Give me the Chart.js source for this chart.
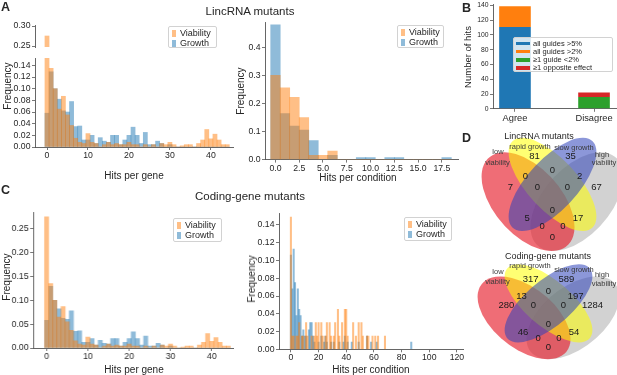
<!DOCTYPE html>
<html>
<head>
<meta charset="utf-8">
<script src="https://cdn.jsdelivr.net/npm/chart.js@4.4.1/dist/chart.umd.min.js"></script>
<style>
  html, body { margin: 0; padding: 0; background: #fff; }
  #fig { position: relative; width: 617px; height: 375px; overflow: hidden;
         font-family: "Liberation Sans", Arial, sans-serif; color: #262626; }
  .box { position: absolute; }
  .txt { position: absolute; white-space: nowrap; line-height: 1; transform: translate(-50%, -50%); }
  .rot { transform: translate(-50%, -50%) rotate(-90deg); }
  .letter { position: absolute; font-weight: bold; font-size: 12.5px; line-height: 1; }
  .leg { position: absolute; border: 1px solid #d2d2d2; border-radius: 2px; background: rgba(255,255,255,0.8); box-sizing: border-box; }
  .leg span { position: absolute; white-space: nowrap; line-height: 1; }
</style>
</head>
<body>
<div id="fig"></div>
<script>
// ---- data ----
const geneHits = [0, 1, 2, 3, 4, 5, 6, 7, 8, 9, 10, 11, 12, 13, 14, 15, 16, 17, 18, 19, 20, 21, 22,
  23, 24, 25, 26, 27, 28, 29, 30, 31, 32, 33, 34, 35, 36, 37, 38, 39, 40, 41, 42, 43, 44];
const geneViability = [0.275, 0.135, 0.100, 0.065, 0.087, 0.055, 0.037, 0.015, 0.008, 0.006, 0.023,
  0.008, 0.006, 0, 0.004, 0.008, 0.004, 0.006, 0.004, 0.004, 0.008, 0.004, 0.004, 0, 0.004, 0,
  0.004, 0, 0.006, 0.004, 0.008, 0.004, 0, 0.002, 0.004, 0.004, 0, 0.006, 0.012, 0.030, 0.014,
  0.022, 0.012, 0.004, 0.004];
const geneGrowth = [0.058, 0.129, 0.100, 0.082, 0.062, 0.060, 0.078, 0.035, 0.036, 0.012, 0.012,
  0.020, 0.006, 0.016, 0.010, 0.008, 0.020, 0.020, 0.004, 0.012, 0.020, 0.034, 0.020, 0.006, 0.025,
  0.004, 0.004, 0.010, 0.006, 0, 0.004, 0, 0, 0, 0, 0, 0, 0, 0, 0, 0, 0, 0, 0, 0];

const lincCondHits = [0, 1, 2, 3, 4, 5, 6, 7, 8, 9, 10, 11, 12, 13, 14, 15, 16, 17, 18];
const lincCondViability = [0.300, 0.256, 0.222, 0.150, 0.015, 0.015, 0.030, 0, 0, 0, 0, 0, 0, 0, 0, 0, 0, 0, 0];
const lincCondGrowth = [0.480, 0.164, 0.119, 0.105, 0.068, 0, 0.015, 0, 0, 0.007, 0.007, 0, 0.007, 0.007, 0, 0, 0, 0, 0.007];

const codingCondViabX = [0, 1, 2, 4, 5, 6, 8, 9, 11, 12, 15, 17, 18, 19, 20, 22, 23, 25, 26, 28,
  29, 31, 32, 34, 35, 37, 39, 40, 41, 45, 47, 49, 51, 52, 55, 56, 59, 61, 63, 68];
const codingCondViabY = [0.149, 0.015, 0.015, 0.015, 0.015, 0.030, 0.015, 0.015, 0.030, 0.015,
  0.015, 0.015, 0.030, 0.015, 0.030, 0.030, 0.015, 0.015, 0.030, 0.030,
  0.015, 0.015, 0.030, 0.045, 0.015, 0.030, 0.045, 0.045, 0.015, 0.030,
  0.015, 0.030, 0.030, 0.015, 0.015, 0.015, 0.015, 0.015, 0.015, 0.015];
const codingCondGrowthX = [0, 1, 2, 3, 4, 5, 6, 7, 8, 9, 10, 11, 13, 14, 15, 16, 17, 20, 22, 24,
  25, 26, 29, 31, 35, 38, 39, 41, 44, 49, 55, 58, 62, 87];
const codingCondGrowthY = [0.106, 0.068, 0.113, 0.075, 0.038, 0.068, 0.045, 0.038, 0.015, 0.022,
  0.015, 0.015, 0.022, 0.030, 0.030, 0.015, 0.008, 0.008, 0.015, 0.008,
  0.015, 0.008, 0.008, 0.008, 0.008, 0.008, 0.015, 0.008, 0.008, 0.008,
  0.015, 0.008, 0.008, 0.008];

const agreeCats = ['Agree', 'Disagree'];
const hitLabels = ['all guides >5%', 'all guides >2%', '≥1 guide <2%', '≥1 opposite effect'];
const hitsAbove5 = [111, 0];
const hitsAbove2 = [28, 0];
const hitsBelow2 = [0, 16];
const hitsOpposite = [0, 6];

const vennSets = ['low viability', 'rapid growth', 'slow growth', 'high viability'];
// regions: low, rapid, slow, high, low+rapid, slow+high, rapid+slow, low+rapid+slow,
// rapid+slow+high, all, low+slow, rapid+high, low+slow+high, low+rapid+high, low+high
const lincVenn = [7, 81, 35, 67, 0, 2, 0, 0, 0, 0, 5, 17, 0, 0, 0];
const codingVenn = [280, 317, 589, 1284, 13, 197, 0, 0, 0, 0, 46, 54, 0, 0, 0];

const geneFreqLowTicks = [0, 0.02, 0.04, 0.06, 0.08, 0.10, 0.12, 0.14];
const geneFreqHighTicks = [0.25, 0.30];
const geneHitTicks = [0, 10, 20, 30, 40];
const lincCondFreqTicks = [0, 0.1, 0.2, 0.3, 0.4];
const lincCondHitTicks = [0, 2.5, 5, 7.5, 10, 12.5, 15, 17.5];
const codingGeneFreqTicks = [0, 0.05, 0.10, 0.15, 0.20, 0.25];
const codingCondFreqTicks = [0, 0.02, 0.04, 0.06, 0.08, 0.10, 0.12, 0.14];
const codingCondHitTicks = [0, 20, 40, 60, 80, 100, 120];
const hitCountTicks = [0, 20, 40, 60, 80, 100, 120, 140];

// ---- style ----
const INK = '#262626';
const SPINE = '#555555';
const VIAB = 'rgba(255, 127, 14, 0.5)';
const GROW = 'rgba(31, 119, 180, 0.5)';
const TAB = ['#1f77b4', '#ff7f0e', '#2ca02c', '#d62728'];
const PAD = 8;

Chart.defaults.font.family = '"Liberation Sans", Arial, sans-serif';
Chart.defaults.color = INK;
Chart.defaults.animation = false;

const fig = document.getElementById('fig');

function mount(area, yW, xH) {
  const div = document.createElement('div');
  div.className = 'box';
  const left = area.l - yW - PAD, top = area.t - PAD;
  div.style.left = left + 'px';
  div.style.top = top + 'px';
  div.style.width = (area.r + PAD - left) + 'px';
  div.style.height = (area.b + xH + PAD - top) + 'px';
  const canvas = document.createElement('canvas');
  div.appendChild(canvas);
  fig.appendChild(div);
  return canvas;
}

function text(str, x, y, size, cls, extra) {
  const d = document.createElement('div');
  d.className = 'txt' + (cls ? ' ' + cls : '');
  d.textContent = str;
  d.style.left = x + 'px';
  d.style.top = y + 'px';
  d.style.fontSize = size + 'px';
  if (extra) Object.assign(d.style, extra);
  fig.appendChild(d);
}

function letter(str, x, y) {
  const d = document.createElement('div');
  d.className = 'letter';
  d.textContent = str;
  d.style.left = x + 'px';
  d.style.top = y + 'px';
  fig.appendChild(d);
}

function axis(o) {
  if (o.hidden) return { type: 'linear', min: o.min, max: o.max, display: false, offset: false, stacked: o.stacked };
  return {
    type: 'linear', min: o.min, max: o.max, offset: false, stacked: o.stacked,
    afterBuildTicks: s => { s.ticks = o.ticks.map(v => ({ value: v })); },
    afterFit: s => { if (s.isHorizontal()) s.height = o.size; else s.width = o.size; },
    ticks: { callback: o.fmt, font: { size: o.font || 8.7 }, color: INK, padding: o.pad ?? 1.5,
             maxRotation: 0, autoSkip: false },
    grid: { drawOnChartArea: false, drawTicks: true, tickLength: 3, tickWidth: 0.8, color: SPINE, offset: false },
    border: { display: true, color: SPINE, width: 0.9 },
  };
}

function options(x, y) {
  return {
    responsive: true, maintainAspectRatio: false, animation: false,
    layout: { padding: PAD },
    plugins: { legend: { display: false }, tooltip: { enabled: false } },
    scales: { x, y },
  };
}

// first dataset is drawn top-most, so Viability sits over Growth
function histSet(label, xs, ys, color) {
  return {
    label, data: xs.map((v, i) => ({ x: v, y: ys[i] })),
    backgroundColor: color, borderWidth: 0, grouped: false,
    barPercentage: 1, categoryPercentage: 1, clip: 0,
  };
}

function histogram(area, yW, xH, sets, x, y) {
  return new Chart(mount(area, yW, xH), { type: 'bar', data: { datasets: sets }, options: options(x, y) });
}

const f2 = v => v.toFixed(2);
const f1 = v => v.toFixed(1);
const f0 = v => String(v);

// ---- panel A, hits per gene (broken y axis) ----
const geneSets = () => [
  histSet('Viability', geneHits, geneViability, VIAB),
  histSet('Growth', geneHits, geneGrowth, GROW),
];
histogram({ l: 35, t: 25, r: 233, b: 47 }, 28, 0, geneSets(),
  axis({ min: -2.93, max: 45.4, hidden: true }),
  axis({ min: 0.2475, max: 0.3025, ticks: geneFreqHighTicks, fmt: f2, size: 28 }));
histogram({ l: 35, t: 58, r: 233, b: 147 }, 28, 16, geneSets(),
  axis({ min: -2.93, max: 45.4, ticks: geneHitTicks, fmt: f0, size: 16, pad: 0.8 }),
  axis({ min: 0, max: 0.1527, ticks: geneFreqLowTicks, fmt: f2, size: 28 }));

// ---- panel A, hits per condition ----
histogram({ l: 265, t: 21.7, r: 458, b: 159.3 }, 22, 14, [
    histSet('Viability', lincCondHits, lincCondViability, VIAB),
    histSet('Growth', lincCondHits, lincCondGrowth, GROW),
  ],
  axis({ min: -1.1, max: 19.2, ticks: lincCondHitTicks, fmt: f1, size: 14, pad: 0.3 }),
  axis({ min: 0, max: 0.49, ticks: lincCondFreqTicks, fmt: f1, size: 22 }));

// ---- panel C, hits per gene ----
histogram({ l: 33.3, t: 212.3, r: 233, b: 348.3 }, 28, 16, [
    histSet('Viability', geneHits, geneViability, VIAB),
    histSet('Growth', geneHits, geneGrowth, GROW),
  ],
  axis({ min: -3.25, max: 45.3, ticks: geneHitTicks, fmt: f0, size: 16, pad: 0.8 }),
  axis({ min: 0, max: 0.285, ticks: codingGeneFreqTicks, fmt: f2, size: 28 }));

// ---- panel C, hits per condition ----
histogram({ l: 279.3, t: 213, r: 463.3, b: 349.3 }, 28, 16, [
    histSet('Viability', codingCondViabX, codingCondViabY, VIAB),
    histSet('Growth', codingCondGrowthX, codingCondGrowthY, GROW),
  ],
  axis({ min: -8.6, max: 124.4, ticks: codingCondHitTicks, fmt: f0, size: 16, pad: 0.3 }),
  axis({ min: 0, max: 0.1535, ticks: codingCondFreqTicks, fmt: f2, size: 28 }));

// ---- panel B, stacked hits ----
const hitSeries = [hitsAbove5, hitsAbove2, hitsBelow2, hitsOpposite];
new Chart(mount({ l: 493, t: 3.5, r: 616, b: 108.3 }, 20, 14), {
  type: 'bar',
  data: {
    datasets: hitSeries.map((vals, k) => ({
      label: hitLabels[k],
      data: vals.map((v, i) => ({ x: i, y: v })),
      backgroundColor: TAB[k], borderWidth: 0,
      barPercentage: 0.4, categoryPercentage: 1,
    })),
  },
  options: options(
    axis({ min: -0.278, max: 1.278, ticks: [0, 1], fmt: v => agreeCats[v], size: 14, font: 9.3, stacked: true }),
    axis({ min: 0, max: 142, ticks: hitCountTicks, fmt: f0, size: 20, font: 6.8, stacked: true })),
});

// ---- panel D, Venn diagrams ----
const VENN_ELLIPSES = [
  { set: 3, cx: 0.65, cy: 0.47, a: 0.35, b: 0.20, rot: 45, fill: 'rgba(165, 165, 165, 0.5)' },
  { set: 0, cx: 0.35, cy: 0.47, a: 0.35, b: 0.20, rot: 135, fill: 'rgba(230, 30, 45, 0.65)' },
  { set: 1, cx: 0.50, cy: 0.57, a: 0.35, b: 0.15, rot: 135, fill: 'rgba(255, 255, 0, 0.55)' },
  { set: 2, cx: 0.50, cy: 0.57, a: 0.35, b: 0.15, rot: 45, fill: 'rgba(45, 65, 185, 0.55)' },
];
const VENN_LABEL_POS = [
  [0.242, 0.555], [0.39, 0.734], [0.61, 0.734], [0.77, 0.555], [0.334, 0.619],
  [0.666, 0.619], [0.5, 0.653], [0.408, 0.555], [0.592, 0.555], [0.5, 0.422],
  [0.344, 0.373], [0.656, 0.373], [0.436, 0.33], [0.564, 0.33], [0.5, 0.266],
];

const vennPlugin = {
  id: 'venn',
  afterDraw(chart) {
    const { ctx, scales: { x, y } } = chart;
    const counts = chart.options.plugins.venn.counts;
    const sx = x.getPixelForValue(1) - x.getPixelForValue(0);
    const sy = y.getPixelForValue(0) - y.getPixelForValue(1);
    VENN_ELLIPSES.forEach(e => {
      ctx.save();
      ctx.translate(x.getPixelForValue(e.cx), y.getPixelForValue(e.cy));
      ctx.scale(sx, -sy);
      ctx.rotate(e.rot * Math.PI / 180);
      ctx.beginPath();
      ctx.ellipse(0, 0, e.a, e.b, 0, 0, Math.PI * 2);
      ctx.restore();
      ctx.fillStyle = e.fill;
      ctx.fill();
    });
    ctx.save();
    ctx.fillStyle = '#1a1a1a';
    ctx.font = '9.5px "Liberation Sans", Arial, sans-serif';
    ctx.textAlign = 'center';
    ctx.textBaseline = 'middle';
    counts.forEach((c, i) => {
      const [ux, uy] = VENN_LABEL_POS[i];
      ctx.fillText(String(c), x.getPixelForValue(ux), y.getPixelForValue(uy));
    });
    ctx.restore();
  },
};

function venn(x0, y1, sx, sy, counts) {
  const div = document.createElement('div');
  div.className = 'box';
  div.style.left = x0 + 'px';
  div.style.top = y1 + 'px';
  div.style.width = sx + 'px';
  div.style.height = sy + 'px';
  const canvas = document.createElement('canvas');
  div.appendChild(canvas);
  fig.appendChild(div);
  new Chart(canvas, {
    type: 'scatter',
    data: { datasets: [] },
    options: {
      responsive: true, maintainAspectRatio: false, animation: false,
      layout: { padding: 0 },
      scales: {
        x: { type: 'linear', min: 0, max: 1, display: false },
        y: { type: 'linear', min: 0, max: 1, display: false },
      },
      plugins: { legend: { display: false }, tooltip: { enabled: false }, venn: { counts } },
    },
    plugins: [vennPlugin],
  });
}
venn(470.5, 110, 163, 173, lincVenn);
venn(467, 241.2, 163, 145, codingVenn);

// ---- legends ----
function histLegend(x, y, w, h) {
  const d = document.createElement('div');
  d.className = 'leg';
  Object.assign(d.style, { left: x + 'px', top: y + 'px', width: w + 'px', height: h + 'px' });
  [['Viability', VIAB], ['Growth', GROW]].forEach(([lab, col], i) => {
    const p = document.createElement('span');
    Object.assign(p.style, { left: '3px', top: (2.5 + i * 10.5) + 'px', width: '4px', height: '7px', background: col });
    const t = document.createElement('span');
    t.textContent = lab;
    Object.assign(t.style, { left: '11px', top: (1.5 + i * 10.5) + 'px', fontSize: '9px' });
    d.appendChild(p); d.appendChild(t);
  });
  fig.appendChild(d);
}
histLegend(168, 26, 49, 22);
histLegend(397, 25, 47, 23);
histLegend(173, 218, 49, 24);
histLegend(404, 217, 48, 24);

(function hitLegend() {
  const d = document.createElement('div');
  d.className = 'leg';
  Object.assign(d.style, { left: '513px', top: '37px', width: '100px', height: '35px' });
  hitLabels.forEach((lab, i) => {
    const p = document.createElement('span');
    Object.assign(p.style, { left: '2px', top: (3.5 + i * 8.3) + 'px', width: '14px', height: '3.5px', background: TAB[i] });
    const t = document.createElement('span');
    t.textContent = lab;
    Object.assign(t.style, { left: '19px', top: (1.5 + i * 8.3) + 'px', fontSize: '7.5px' });
    d.appendChild(p); d.appendChild(t);
  });
  fig.appendChild(d);
})();

// ---- texts ----
letter('A', 1, 1);
letter('B', 462, 2);
letter('C', 1, 184);
letter('D', 462, 132);
text('LincRNA mutants', 250, 12, 11.5);
text('Coding-gene mutants', 250, 197, 11.5);

text('Frequency', 8, 86, 10, 'rot');
text('Hits per gene', 134, 176, 10);
text('Frequency', 241, 91, 10, 'rot');
text('Hits per condition', 358, 178, 10);
text('Frequency', 7, 277, 10, 'rot');
text('Hits per gene', 134, 370, 10);
text('Frequency', 252, 279, 10, 'rot');
text('Hits per condition', 371, 370, 10);
text('Number of hits', 468, 57, 9.5, 'rot');

text('LincRNA mutants', 539, 136, 9);
text('Coding-gene mutants', 548, 256, 9);
const vennNameStyle = { color: '#3a3a3a' };
[[152, 163, 147, 148, 155, 163], [272, 282, 266, 270, 275, 284]].forEach(ys => {
  text('low', 498, ys[0], 7.5, '', vennNameStyle);
  text('viability', 497.5, ys[1], 7.5, '', vennNameStyle);
  text(vennSets[1], 530, ys[2], 7.5, '', vennNameStyle);
  text(vennSets[2], 574, ys[3], 7.5, '', vennNameStyle);
  text('high', 602, ys[4], 7.5, '', vennNameStyle);
  text('viability', 604, ys[5], 7.5, '', vennNameStyle);
});
</script>
</body>
</html>
